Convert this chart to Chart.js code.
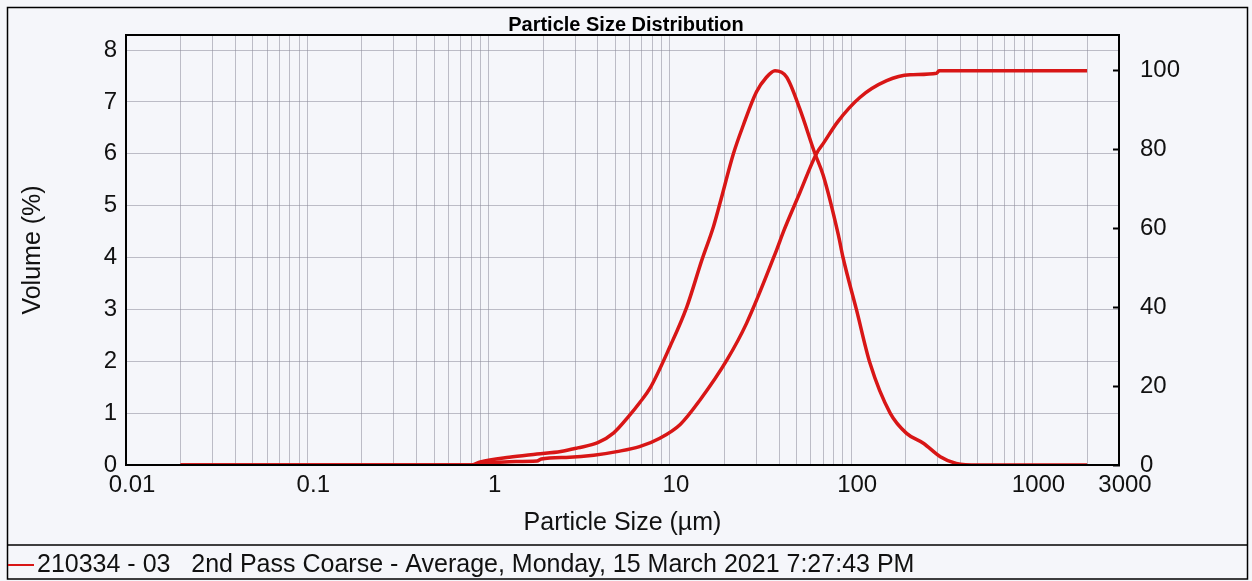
<!DOCTYPE html>
<html><head><meta charset="utf-8">
<script src="https://cdn.jsdelivr.net/npm/chart.js@4.4.1/dist/chart.umd.min.js"></script>
<style>html,body{margin:0;padding:0;background:#f5f6fa;} canvas{display:block}</style>
</head><body>
<canvas id="c" width="1252" height="581"></canvas>
<script>
const chartTitle = 'Particle Size Distribution';
const xAxisTitle = 'Particle Size (µm)';
const yAxisTitle = 'Volume (%)';
const legendText = '210334 - 03   2nd Pass Coarse - Average, Monday, 15 March 2021 7:27:43 PM';
const xTickLabels = [0.01, 0.1, 1, 10, 100, 1000, 3000];
const yLeftTicks = [0, 1, 2, 3, 4, 5, 6, 7, 8];
const yRightTicks = [0, 20, 40, 60, 80, 100];

const freqSizes  = [0.02, 0.5, 0.8, 0.9, 1.3, 1.85, 2.5, 3.1, 4.0, 4.9, 6.0, 6.84, 7.77, 10, 12.4, 15, 17.4, 18.9, 22.4, 25.4, 30, 34, 38, 44, 52, 63, 70, 85, 90, 107, 127, 164, 202, 250, 310, 380, 500, 1000, 2000];
const freqValues = [0, 0, 0, 0.06, 0.15, 0.21, 0.26, 0.33, 0.43, 0.62, 0.96, 1.21, 1.48, 2.28, 3.05, 3.95, 4.6, 5.05, 6.0, 6.55, 7.19, 7.47, 7.6, 7.48, 6.87, 6.01, 5.59, 4.43, 4.01, 2.99, 1.96, 1.0, 0.61, 0.42, 0.16, 0.03, 0, 0, 0];

const cumSizes  = [0.02, 0.8, 0.9, 1.3, 1.85, 1.95, 2.8, 3.8, 5.1, 6.8, 8.8, 11.4, 14.66, 20.6, 26.5, 38.8, 42.3, 52, 64.5, 70.2, 84, 112, 157, 211, 296, 305, 2000];
const cumValues = [0, 0, 0.3, 0.85, 1.0, 1.5, 1.95, 2.5, 3.4, 4.65, 6.8, 10.3, 16.5, 26.6, 36, 54.6, 59.2, 69, 79.1, 81.6, 87, 93.3, 97.5, 99, 99.4, 100, 100];

const FONT = 'Liberation Sans, Arial, sans-serif';
const RED = '#d81616';
const GRID = 'rgba(140,140,155,0.55)';
const BG = '#f5f6fa';

// log grid positions (axis structure)
const xGrid = [];
for (let e = -2; e <= 3; e++) {
  for (let m = 1; m <= 9; m++) {
    const v = parseFloat((m * Math.pow(10, e)).toPrecision(6));
    if (v >= 0.01 && v <= 3000) xGrid.push(v);
  }
}

const framePlugin = {
  id: 'frame',
  beforeDraw(chart) {
    const ctx = chart.ctx;
    ctx.save();
    ctx.fillStyle = BG;
    ctx.fillRect(0, 0, chart.width, chart.height);
    ctx.restore();
  },
  afterDraw(chart) {
    const ctx = chart.ctx;
    const a = chart.chartArea;
    ctx.save();
    ctx.strokeStyle = '#000';
    ctx.lineWidth = 2;
    ctx.strokeRect(a.left, a.top, a.right - a.left, a.bottom - a.top);
    ctx.lineWidth = 1.5;
    ctx.strokeRect(7.5, 7.5, 1240, 571.5);
    ctx.beginPath();
    ctx.moveTo(7, 545); ctx.lineTo(1248, 545);
    ctx.stroke();
    // legend
    ctx.strokeStyle = RED;
    ctx.lineWidth = 2;
    ctx.beginPath();
    ctx.moveTo(8, 565); ctx.lineTo(34, 565);
    ctx.stroke();
    ctx.fillStyle = '#111';
    ctx.font = '25px ' + FONT;
    ctx.textBaseline = 'middle';
    ctx.textAlign = 'left';
    ctx.fillText(legendText, 37, 565);
    ctx.restore();
  }
};

const tickFont = {family: FONT, size: 24};
const fitV = (w) => (s) => { s.width = w; s.paddingTop = 0; s.paddingBottom = 0; };

new Chart(document.getElementById('c'), {
  type: 'line',
  data: {
    datasets: [
      {
        label: 'Volume',
        data: freqSizes.map((s, i) => ({x: s, y: freqValues[i]})),
        yAxisID: 'y',
        borderColor: RED, borderWidth: 3.5, pointRadius: 0,
        cubicInterpolationMode: 'monotone', fill: false
      },
      {
        label: 'Cumulative',
        data: cumSizes.map((s, i) => ({x: s, y: cumValues[i]})),
        yAxisID: 'y1',
        borderColor: RED, borderWidth: 3.5, pointRadius: 0,
        cubicInterpolationMode: 'monotone', fill: false
      }
    ]
  },
  options: {
    responsive: false,
    animation: false,
    layout: {padding: 0},
    plugins: {
      legend: {display: false},
      tooltip: {enabled: false},
      title: {
        display: true, text: chartTitle, color: '#000',
        font: {family: FONT, size: 20, weight: 'bold'},
        padding: {top: 13, bottom: -2}
      }
    },
    scales: {
      x: {
        type: 'logarithmic', position: 'bottom', min: 0.01, max: 3000,
        afterBuildTicks: s => { s.ticks = xGrid.map(v => ({value: v})); },
        afterFit: s => { s.height = 116; s.paddingLeft = 0; s.paddingRight = 0; },
        ticks: {
          autoSkip: false, maxRotation: 0, minRotation: 0, labelOffset: 6, padding: 6,
          font: tickFont, color: '#111',
          callback: (v) => {
            const t = xTickLabels.find(t => Math.abs(t - v) / t < 1e-6);
            return t !== undefined ? String(t) : '';
          }
        },
        grid: {color: GRID, lineWidth: 1, drawTicks: false},
        border: {display: true, color: '#000', width: 2},
        title: {display: true, text: xAxisTitle, color: '#111', font: {family: FONT, size: 25}, padding: {top: 0, bottom: 43}}
      },
      y: {
        position: 'left', min: 0, max: 8.29,
        afterBuildTicks: s => { s.ticks = yLeftTicks.map(v => ({value: v})); },
        afterFit: fitV(126),
        ticks: {padding: 9, font: tickFont, color: '#111'},
        grid: {color: GRID, lineWidth: 1, drawTicks: false},
        border: {display: true, color: '#000', width: 2},
        title: {display: true, text: yAxisTitle, color: '#111', font: {family: FONT, size: 25}, padding: {top: 18, bottom: 0}}
      },
      y1: {
        position: 'right', min: 0, max: 109.1,
        afterBuildTicks: s => { s.ticks = yRightTicks.map(v => ({value: v})); },
        afterFit: fitV(133),
        ticks: {padding: 27, font: tickFont, color: '#111'},
        grid: {drawOnChartArea: false, drawTicks: true, tickLength: -6, tickColor: '#000', tickWidth: 2},
        border: {display: true, color: '#000', width: 2}
      }
    }
  },
  plugins: [framePlugin]
});
</script>
</body></html>
